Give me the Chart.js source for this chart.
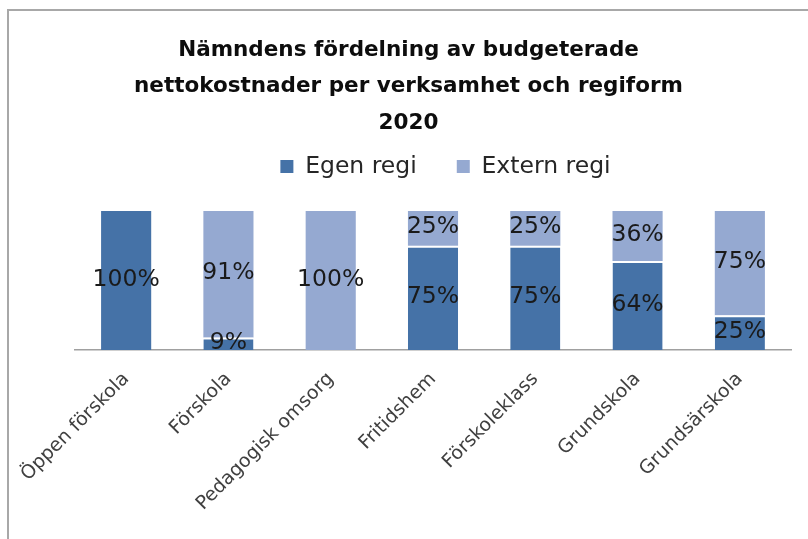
<!DOCTYPE html>
<html>
<head>
<meta charset="utf-8">
<script src="https://cdn.jsdelivr.net/npm/chart.js"></script>
<style>
  html, body { margin: 0; padding: 0; background: #fff; overflow: hidden; }
  #frame {
    position: absolute; left: 7px; top: 9px; width: 801px; height: 530px;
    box-sizing: border-box;
    border-top: 2px solid #a8a8a8; border-left: 2px solid #a8a8a8;
  }
  #chart { position: absolute; left: 9px; top: 11px; }
</style>
</head>
<body>
<div id="frame"></div>
<canvas id="chart" width="799" height="528"></canvas>
<script>
// värden (procent)
var categories = ["Öppen förskola", "Förskola", "Pedagogisk omsorg", "Fritidshem", "Förskoleklass", "Grundskola", "Grundsärskola"];
var egenRegi   = [100, 9, 0, 75, 75, 64, 25];
var externRegi = [0, 91, 100, 25, 25, 36, 75];
var seriesNames = ["Egen regi", "Extern regi"];
var titleLines = ["Nämndens fördelning av budgeterade", "nettokostnader per verksamhet och regiform", "2020"];

var FONT = "'DejaVu Sans', Verdana, sans-serif";

// procentetiketter mitt i varje segment
var segmentLabels = {
  id: "segmentLabels",
  afterDatasetsDraw: function(chart) {
    var ctx = chart.ctx;
    ctx.save();
    ctx.font = "23.5px " + FONT;
    ctx.fillStyle = "#1a1a1a";
    ctx.textAlign = "center";
    ctx.textBaseline = "middle";
    chart.data.datasets.forEach(function(ds, i) {
      chart.getDatasetMeta(i).data.forEach(function(bar, j) {
        var v = ds.data[j];
        if (!v) return;
        var p = bar.getProps(["x", "y", "base"], true);
        ctx.fillText(v + "%", p.x, (p.y + p.base) / 2 - 1);
      });
    });
    ctx.restore();
  }
};

// förklaringen sitter lite till höger om mitten i originalet
var legendNudge = {
  id: "legendNudge",
  afterLayout: function(chart) {
    chart.legend.left += 37;
    chart.legend.right += 37;
  }
};

new Chart("chart", {
  type: "bar",
  data: {
    labels: categories,
    datasets: [{
      label: seriesNames[0],
      data: egenRegi,
      backgroundColor: "#4572a7",
      borderColor: "#ffffff",
      borderWidth: function(c) { return externRegi[c.dataIndex] > 0 ? { top: 2 } : 0; },
      borderSkipped: "start"
    }, {
      label: seriesNames[1],
      data: externRegi,
      backgroundColor: "#95a9d1",
      borderWidth: 0
    }]
  },
  options: {
    responsive: false,
    animation: false,
    categoryPercentage: 1,
    barPercentage: 0.49,
    layout: { padding: 0 },
    plugins: {
      title: {
        display: true,
        text: titleLines,
        color: "#0d0d0d",
        font: { family: FONT, size: 21.5, weight: "bold", lineHeight: 1.7 },
        padding: { top: 21, bottom: -26.9 }
      },
      legend: {
        display: true,
        position: "top",
        labels: {
          boxWidth: 13,
          boxHeight: 13,
          padding: 40,
          color: "#262626",
          font: { family: FONT, size: 23.5 }
        }
      },
      tooltip: { enabled: false }
    },
    scales: {
      x: {
        stacked: true,
        position: "bottom",
        grid: { display: false, drawTicks: false },
        border: { display: true, color: "#a0a0a0", width: 1.5 },
        ticks: {
          color: "#404040",
          font: { family: FONT, size: 19 },
          minRotation: 45,
          maxRotation: 45,
          autoSkip: false,
          padding: 18
        },
        afterFit: function(s) { s.height = 189; s.paddingLeft = 0; }
      },
      xt: {
        type: "category",
        position: "top",
        grid: { display: false, drawTicks: false },
        border: { display: false },
        ticks: { display: false },
        afterFit: function(s) { s.height = 22.75; }
      },
      y: {
        stacked: true,
        min: 0,
        max: 100,
        position: "left",
        grid: { display: false, drawTicks: false },
        border: { display: false },
        ticks: { display: false },
        afterFit: function(s) { s.width = 66; }
      },
      yr: {
        type: "linear",
        position: "right",
        grid: { display: false, drawTicks: false },
        border: { display: false },
        ticks: { display: false },
        afterFit: function(s) { s.width = 17; }
      }
    }
  },
  plugins: [segmentLabels, legendNudge]
});
</script>
</body>
</html>
